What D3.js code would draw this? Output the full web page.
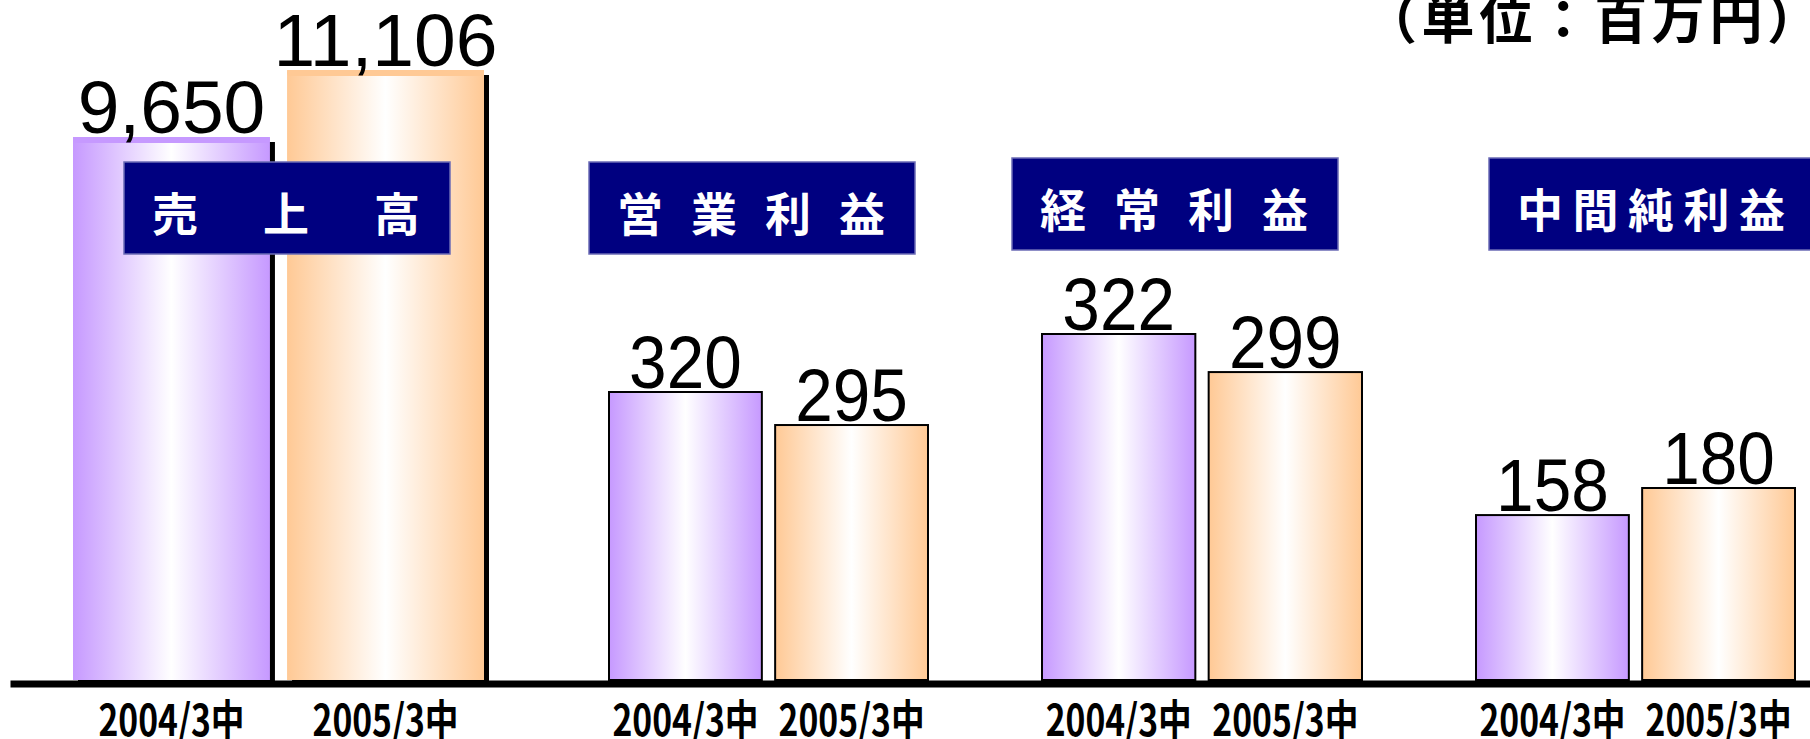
<!DOCTYPE html>
<html>
<head>
<meta charset="utf-8">
<script src="https://cdn.jsdelivr.net/npm/d3@7"></script>
<style>
  body { margin: 0; background: #fff; }
  svg { display: block; }
</style>
</head>
<body>
<div id="chart"></div>
<script>
// data (単位：百万円)
const groups = ["売上高", "営業利益", "経常利益", "中間純利益"];
const boxTitles = ["売上高", "営業利益", "経常利益", "中間純利益"];
const periods = ["2004/3中", "2005/3中"];
const values2004 = [9650, 320, 322, 158];
const values2005 = [11106, 295, 299, 180];
const unitLabel = "（単位：百万円）";

// layout
const W = 1810, H = 739;
const baseY = 680;
// each group was drawn on its own (truncated) scale
const groupSpan = [[73, 484], [609, 928], [1042, 1362], [1476, 1795]];
const groupDomainLo = [-2149, 102, 113, 24];
const groupTopY = [70, 392, 334, 488];
const boxLeft = [124, 589, 1012, 1489];
const boxTop = [162, 162, 158, 158];
const boxW = 326, boxH = 92;
const colors = ["#c699ff", "#ffc995"];

const svg = d3.select("#chart").append("svg")
  .attr("width", W).attr("height", H)
  .attr("viewBox", `0 0 ${W} ${H}`);

svg.append("rect").attr("width", W).attr("height", H).attr("fill", "#fff");

// gradients
const defs = svg.append("defs");
colors.forEach((c, i) => {
  const g = defs.append("linearGradient")
    .attr("id", "grad" + i)
    .attr("x1", 0).attr("x2", 1).attr("y1", 0).attr("y2", 0);
  g.append("stop").attr("offset", "0%").attr("stop-color", c);
  g.append("stop").attr("offset", "50%").attr("stop-color", "#ffffff");
  g.append("stop").attr("offset", "100%").attr("stop-color", c);
});

// one record per bar
const bars = [];
groups.forEach((g, gi) => {
  const x = d3.scaleBand().domain(periods).range(groupSpan[gi]).paddingInner(0.08);
  const y = d3.scaleLinear()
    .domain([groupDomainLo[gi], d3.max([values2004[gi], values2005[gi]])])
    .range([baseY, groupTopY[gi]]);
  [values2004[gi], values2005[gi]].forEach((v, pi) => {
    bars.push({ gi, pi, v, x: x(periods[pi]), w: x.bandwidth(), y: y(v) });
  });
});

// sales bars: drop shadow, no outline
const sales = bars.filter(d => d.gi === 0);
svg.selectAll(".shadow").data(sales).enter().append("rect")
  .attr("class", "shadow")
  .attr("x", d => d.x + 5).attr("y", d => d.y + 5)
  .attr("width", d => d.w).attr("height", d => baseY - d.y)
  .attr("fill", "#000");

svg.selectAll(".bar").data(bars).enter().append("rect")
  .attr("class", "bar")
  .attr("x", d => d.x).attr("y", d => d.y)
  .attr("width", d => d.w).attr("height", d => baseY - d.y)
  .attr("fill", d => `url(#grad${d.pi})`)
  .attr("stroke", d => d.gi === 0 ? "none" : "#000")
  .attr("stroke-width", 2);

// top band on the sales bars
svg.selectAll(".cap").data(sales).enter().append("rect")
  .attr("class", "cap")
  .attr("x", d => d.x).attr("y", d => d.y)
  .attr("width", d => d.w).attr("height", 6)
  .attr("rx", 3)
  .attr("fill", d => colors[d.pi]);

// value labels
const fmt = d3.format(",");
svg.selectAll(".val").data(bars).enter().append("text")
  .attr("class", "val")
  .attr("x", d => d.x + d.w / 2)
  .attr("y", d => d.y - 4)
  .attr("text-anchor", "middle")
  .style("font-family", "'Liberation Sans', Arial, sans-serif")
  .style("font-size", "75px")
  .attr("fill", "#000")
  .text(d => fmt(d.v))
  .each(function (d) {
    if (d.gi > 0) {
      const len = this.getComputedTextLength();
      d3.select(this).attr("textLength", len * 0.9).attr("lengthAdjust", "spacingAndGlyphs");
    }
  });

// baseline axis
const xAxisScale = d3.scaleLinear().domain([0, 1]).range([10, W]);
svg.append("g")
  .attr("transform", `translate(0,${baseY + 3.5})`)
  .call(d3.axisBottom(xAxisScale).tickValues([]).tickSizeOuter(0))
  .select(".domain")
  .attr("stroke", "#000")
  .attr("stroke-width", 7);

// period labels (narrow, tall gothic: drawn small and stretched upward)
svg.selectAll(".per").data(bars).enter().append("text")
  .attr("class", "per")
  .attr("transform", d => `translate(${d.x + d.w / 2},736) scale(1,1.24)`)
  .attr("text-anchor", "middle")
  .attr("textLength", 146)
  .attr("lengthAdjust", "spacingAndGlyphs")
  .style("font-family", "'Noto Sans CJK JP', sans-serif")
  .style("font-weight", 600)
  .style("font-size", "35px")
  .attr("fill", "#000")
  .text(d => periods[d.pi]);

// navy title boxes
const box = svg.selectAll(".box").data(boxTitles).enter().append("g")
  .attr("class", "box")
  .attr("transform", (d, i) => `translate(${boxLeft[i]},${boxTop[i]})`);

box.append("rect")
  .attr("width", boxW).attr("height", boxH)
  .attr("fill", "#000080")
  .attr("stroke", "#6b6bb5")
  .attr("stroke-width", 1.5);

box.each(function (t) {
  const chars = Array.from(t);
  const px = d3.scalePoint().domain(d3.range(chars.length)).range([51, boxW - 53]);
  d3.select(this).selectAll("text").data(chars).enter().append("text")
    .attr("x", (c, i) => px(i))
    .attr("y", 69)
    .attr("text-anchor", "middle")
    .style("font-family", "'Noto Sans CJK JP', sans-serif")
    .style("font-weight", 700)
    .style("font-size", "46px")
    .attr("fill", "#fff")
    .text(c => c);
});

// unit
svg.append("text")
  .attr("x", 1592).attr("y", 39)
  .attr("text-anchor", "middle")
  .attr("textLength", 456)
  .attr("lengthAdjust", "spacing")
  .style("font-family", "'Noto Sans CJK JP', sans-serif")
  .style("font-weight", 700)
  .style("font-size", "53px")
  .attr("fill", "#000")
  .text(unitLabel);
</script>
</body>
</html>
